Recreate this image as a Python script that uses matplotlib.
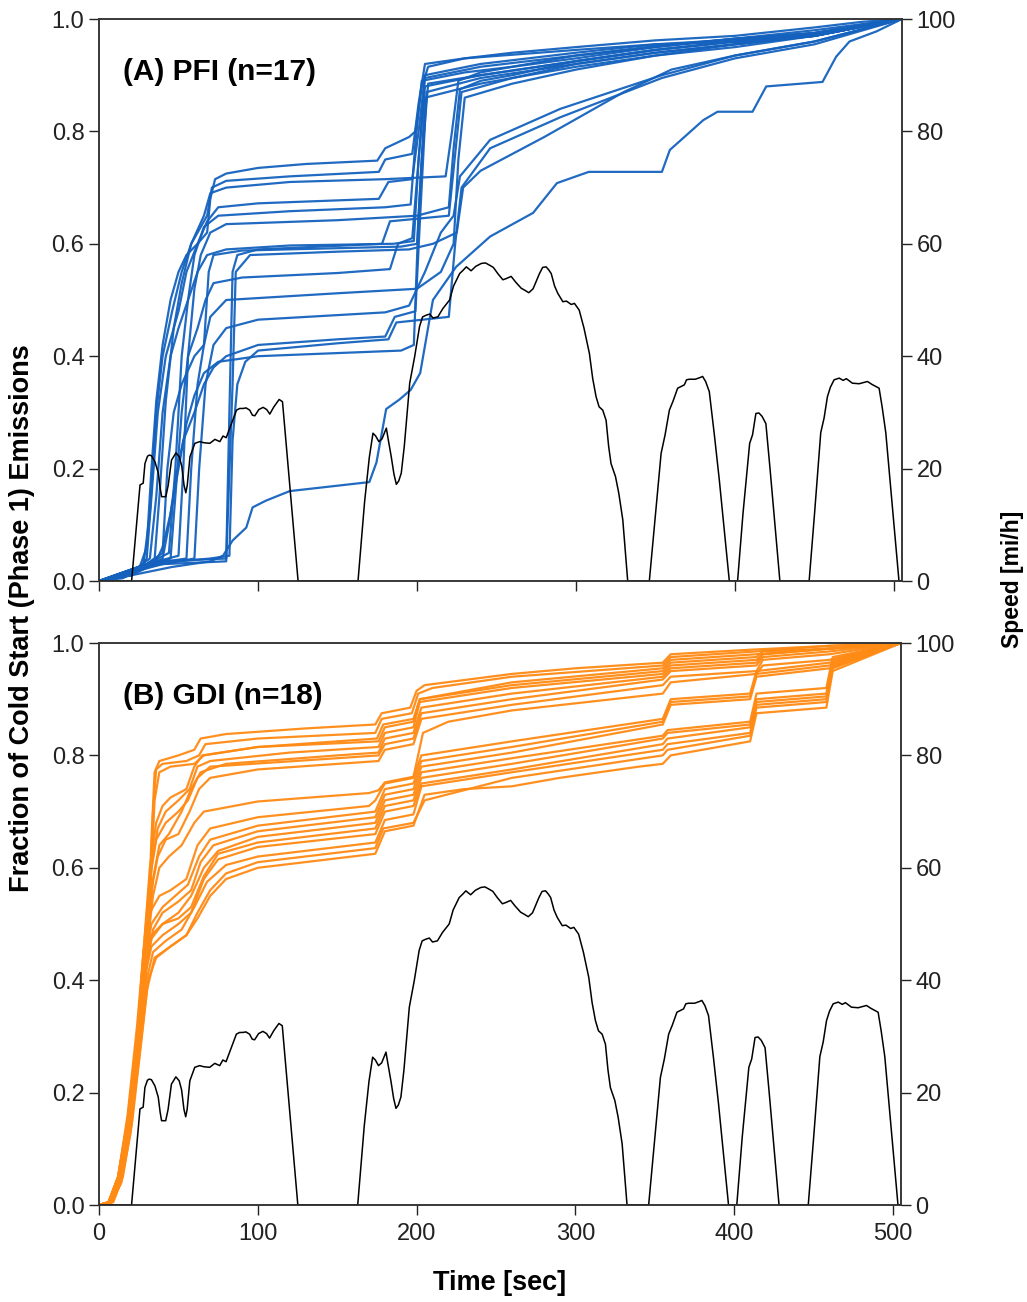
import matplotlib
matplotlib.use("Agg")
import matplotlib.pyplot as plt

plt.rcParams['font.family'] = ['Liberation Sans', 'DejaVu Sans']

# ---------------- data ----------------
# FTP-75 phase 1 speed trace (time [s], speed [mi/h])
speed_t = [0, 20, 20.5, 23, 25.8, 27.8, 28.9, 30.5, 31.6, 33, 35.2, 37.3, 38.5, 39.4, 42, 43.5, 45.6, 48.4,
           50.5, 52, 53.5, 54.6, 55.5, 57.2, 60.3, 63.4, 66, 69.7, 72.9, 76, 78, 80, 83.3, 86.5, 88.5, 90.6,
           92.5, 94.8, 96.5, 98, 100.5, 103.2, 105.5, 107.4, 110, 113.3, 115.4, 125.2, 162.9, 167, 170,
           172.3, 174, 176, 178, 180.7, 182, 183.8, 185.5, 187, 188.5, 190.1, 192, 195.4, 198.5, 201.6,
           203.5, 205.8, 208, 210, 213.1, 216.3, 220.5, 223, 226.8, 229, 231, 234, 237, 240.4, 243, 245.6,
           248, 250.8, 254, 256, 259.2, 262, 265.5, 268, 270.3, 273, 277, 279, 281.2, 283, 284.4, 286.5,
           288.5, 290, 291.7, 294, 297, 299, 302, 305, 308.4, 310.5, 312.6, 314.5, 316.8, 318.9, 320.5,
           322, 324.8, 326.9, 329.4, 332.5, 346.1, 350, 353.5, 356, 358.7, 361, 363.9, 366, 368.1, 369.5,
           371.2, 375, 378, 379.6, 381.5, 383.8, 387, 390.1, 396.4, 401.6, 405, 409.2, 411, 413.1, 415,
           417, 419.4, 422, 428.2, 446.6, 450, 453.9, 456, 458.1, 460, 462.3, 465.5, 468, 470, 473.8, 478,
           483.3, 486, 490.6, 492.5, 494.8, 499, 503.1, 505]
speed_v = [0, 0, 0, 8, 17.1, 17.4, 20.9, 22.2, 22.4, 22.3, 21.2, 19.2, 16.5, 15, 15, 17, 21.5, 22.8,
           22.1, 20.5, 17, 15.7, 17, 22.1, 24.5, 24.8, 24.6, 24.5, 25.2, 24.8, 25.8, 25.5, 28, 30.4, 30.7, 30.7,
           30.8, 30.4, 29.5, 29.4, 30.5, 30.9, 30.5, 29.7, 31, 32.3, 31.9, 0, 0, 14, 22,
           26.3, 25.8, 24.8, 25.3, 27.2, 25, 22.1, 19, 17.2, 17.8, 19.2, 24, 35.2, 39.9, 45.3,
           47, 47.3, 47.5, 46.8, 47, 48.5, 50, 52.5, 54.7, 55.3, 55.9, 55.2, 56, 56.5, 56.6, 56.2,
           55.8, 54.7, 53.6, 53.8, 54.2, 53.2, 52.1, 51.7, 51.3, 52, 54.7, 55.8, 55.9, 55.3, 54.7, 52.5,
           51.2, 50.5, 49.7, 49.8, 49.2, 49.4, 48.2, 45, 40.5, 36, 32.8, 31, 30.4, 28.6, 24,
           20.9, 18.6, 15.6, 10.9, 0, 0, 12, 22.7, 26, 30.4, 32, 34.3, 34.6, 34.9, 35.8,
           35.9, 35.9, 36.2, 36.4, 35.5, 33.7, 26, 18, 0, 0, 12, 24.5, 26, 29.8, 29.9,
           29.3, 28, 20, 0, 0, 12, 26.4, 29, 32.8, 34.5, 35.8, 36.1, 35.7, 36, 35.2, 35.1,
           35.5, 35, 34.3, 31, 26.4, 13, 0, 0]

# PFI vehicles: cumulative fraction curves, (time [s], fraction) pairs
pfi_curves = [
    [(0, 0), (15, 0.005), (25, 0.02), (30, 0.06), (33, 0.2), (36, 0.32), (40, 0.42), (45, 0.5), (50, 0.55),
     (55, 0.58), (62, 0.6), (68, 0.62), (70, 0.68), (73, 0.715), (80, 0.725), (100, 0.735), (130, 0.742),
     (175, 0.748), (180, 0.77), (195, 0.79), (199, 0.8), (203, 0.88), (207, 0.915), (230, 0.93), (260, 0.94),
     (300, 0.95), (350, 0.962), (400, 0.97), (450, 0.985), (480, 0.995), (505, 1.0)],
    [(0, 0), (20, 0.01), (28, 0.03), (32, 0.12), (36, 0.3), (40, 0.4), (46, 0.48), (52, 0.55), (58, 0.6),
     (64, 0.63), (68, 0.65), (71, 0.7), (80, 0.712), (120, 0.72), (176, 0.728), (180, 0.75), (197, 0.76),
     (201, 0.85), (205, 0.92), (230, 0.93), (300, 0.945), (350, 0.955), (410, 0.96), (455, 0.975),
     (480, 0.99), (505, 1.0)],
    [(0, 0), (25, 0.02), (35, 0.04), (38, 0.15), (42, 0.32), (47, 0.45), (52, 0.53), (58, 0.6), (66, 0.65),
     (70, 0.69), (80, 0.7), (120, 0.71), (180, 0.715), (218, 0.72), (222, 0.8), (226, 0.89), (240, 0.905),
     (260, 0.915), (300, 0.93), (350, 0.95), (400, 0.965), (450, 0.975), (505, 1.0)],
    [(0, 0), (25, 0.02), (30, 0.04), (33, 0.15), (37, 0.3), (42, 0.4), (50, 0.48), (55, 0.55), (62, 0.6),
     (68, 0.64), (75, 0.665), (100, 0.672), (176, 0.68), (182, 0.71), (197, 0.715), (201, 0.8), (205, 0.9),
     (240, 0.92), (300, 0.94), (350, 0.955), (410, 0.965), (450, 0.975), (505, 1.0)],
    [(0, 0), (30, 0.03), (44, 0.05), (48, 0.2), (52, 0.4), (56, 0.5), (60, 0.58), (66, 0.63), (75, 0.65),
     (120, 0.658), (180, 0.665), (196, 0.67), (199, 0.78), (203, 0.89), (230, 0.905), (260, 0.915),
     (300, 0.935), (350, 0.95), (400, 0.965), (450, 0.975), (505, 1.0)],
    [(0, 0), (30, 0.03), (50, 0.045), (53, 0.2), (56, 0.4), (60, 0.52), (64, 0.58), (70, 0.62), (80, 0.635),
     (150, 0.642), (200, 0.65), (220, 0.665), (223, 0.77), (227, 0.875), (240, 0.89), (260, 0.9),
     (300, 0.925), (350, 0.945), (400, 0.96), (450, 0.97), (505, 1.0)],
    [(0, 0), (20, 0.015), (32, 0.04), (36, 0.15), (40, 0.3), (45, 0.4), (50, 0.45), (56, 0.5), (62, 0.55),
     (68, 0.58), (80, 0.59), (120, 0.597), (185, 0.6), (198, 0.605), (201, 0.75), (205, 0.895), (240, 0.915),
     (300, 0.935), (350, 0.952), (400, 0.965), (450, 0.98), (505, 1.0)],
    [(0, 0), (40, 0.035), (80, 0.04), (82, 0.3), (84, 0.55), (87, 0.58), (100, 0.59), (178, 0.6), (183, 0.64),
     (220, 0.65), (224, 0.76), (228, 0.87), (260, 0.895), (300, 0.92), (350, 0.94), (400, 0.955),
     (450, 0.97), (505, 1.0)],
    [(0, 0), (30, 0.03), (40, 0.05), (43, 0.2), (47, 0.3), (52, 0.35), (60, 0.4), (66, 0.42), (69, 0.55),
     (72, 0.58), (90, 0.588), (190, 0.595), (200, 0.6), (203, 0.75), (207, 0.885), (240, 0.9), (300, 0.925),
     (350, 0.945), (400, 0.96), (450, 0.97), (505, 1.0)],
    [(0, 0), (40, 0.03), (80, 0.035), (84, 0.35), (86, 0.55), (95, 0.58), (150, 0.586), (195, 0.59),
     (210, 0.6), (225, 0.62), (229, 0.7), (240, 0.73), (280, 0.79), (330, 0.87), (360, 0.91), (400, 0.935),
     (450, 0.96), (505, 1.0)],
    [(0, 0), (30, 0.025), (45, 0.04), (48, 0.15), (52, 0.3), (56, 0.4), (62, 0.45), (67, 0.5), (72, 0.53),
     (90, 0.54), (150, 0.548), (183, 0.555), (188, 0.6), (197, 0.61), (201, 0.75), (205, 0.88), (240, 0.9),
     (300, 0.925), (350, 0.945), (400, 0.96), (450, 0.975), (505, 1.0)],
    [(0, 0), (30, 0.03), (55, 0.04), (58, 0.2), (62, 0.35), (66, 0.42), (70, 0.47), (80, 0.5), (150, 0.512),
     (200, 0.52), (215, 0.55), (223, 0.6), (226, 0.75), (230, 0.86), (260, 0.885), (300, 0.91), (350, 0.935),
     (400, 0.955), (450, 0.97), (505, 1.0)],
    [(0, 0), (30, 0.025), (60, 0.04), (63, 0.2), (67, 0.35), (72, 0.42), (80, 0.45), (100, 0.465),
     (180, 0.478), (195, 0.49), (205, 0.55), (215, 0.62), (223, 0.65), (227, 0.72), (246, 0.785),
     (290, 0.84), (354, 0.9), (400, 0.935), (450, 0.96), (505, 1.0)],
    [(0, 0), (25, 0.02), (40, 0.04), (44, 0.1), (48, 0.18), (53, 0.25), (60, 0.3), (66, 0.35), (72, 0.38),
     (80, 0.4), (100, 0.42), (150, 0.43), (180, 0.435), (186, 0.47), (199, 0.48), (202, 0.65), (206, 0.87),
     (240, 0.895), (300, 0.92), (350, 0.94), (400, 0.955), (450, 0.97), (505, 1.0)],
    [(0, 0), (30, 0.03), (70, 0.04), (82, 0.045), (84, 0.25), (87, 0.35), (92, 0.39), (100, 0.41),
     (150, 0.423), (182, 0.43), (187, 0.46), (220, 0.47), (224, 0.6), (228, 0.7), (246, 0.77), (290, 0.825),
     (354, 0.895), (400, 0.93), (450, 0.955), (505, 1.0)],
    [(0, 0), (20, 0.01), (35, 0.03), (40, 0.06), (45, 0.12), (50, 0.2), (55, 0.28), (60, 0.33), (66, 0.37),
     (75, 0.39), (100, 0.4), (190, 0.41), (198, 0.42), (201, 0.65), (205, 0.86), (240, 0.885), (300, 0.915),
     (350, 0.935), (400, 0.95), (450, 0.97), (505, 1.0)],
    [(0, 0), (20, 0.01), (46, 0.025), (70, 0.035), (78, 0.045), (84, 0.072), (92.6, 0.095), (96.6, 0.131),
     (105, 0.143), (120, 0.16), (170, 0.176), (174.5, 0.211), (180.6, 0.306), (189, 0.323), (196, 0.34),
     (202, 0.37), (210, 0.5), (224.6, 0.559), (246, 0.613), (273, 0.655), (288, 0.708), (308, 0.728),
     (354, 0.728), (359, 0.767), (380, 0.82), (389, 0.835), (411, 0.835), (419.6, 0.88), (455, 0.888),
     (463.6, 0.933), (472, 0.96), (489, 0.978), (505, 1.0)],
]

# GDI vehicles: cumulative fraction curves, (time [s], fraction) pairs
gdi_curves = [
    [(0, 0), (6, 0.005), (12, 0.04), (18, 0.12), (24, 0.26), (28, 0.38), (31, 0.5), (33, 0.65), (35, 0.77),
     (38, 0.79), (50, 0.8), (60, 0.81), (64, 0.83), (80, 0.838), (130, 0.848), (174, 0.855), (178, 0.875),
     (196, 0.885), (200, 0.915), (205, 0.925), (260, 0.945), (300, 0.955), (355, 0.965), (360, 0.98),
     (410, 0.988), (460, 0.995), (505, 1.0)],
    [(0, 0), (7, 0.005), (13, 0.04), (19, 0.12), (25, 0.27), (29, 0.4), (32, 0.55), (34, 0.7), (36, 0.775),
     (40, 0.785), (55, 0.79), (63, 0.8), (67, 0.82), (100, 0.83), (174, 0.84), (178, 0.865), (197, 0.875),
     (201, 0.91), (210, 0.92), (260, 0.94), (355, 0.96), (360, 0.975), (414, 0.985), (460, 0.995), (505, 1.0)],
    [(0, 0), (8, 0.005), (14, 0.04), (20, 0.13), (26, 0.3), (30, 0.45), (33, 0.6), (35, 0.72), (38, 0.77),
     (45, 0.78), (60, 0.785), (66, 0.8), (100, 0.815), (175, 0.83), (179, 0.855), (198, 0.865), (202, 0.9),
     (260, 0.93), (355, 0.955), (360, 0.97), (414, 0.98), (460, 0.99), (505, 1.0)],
    [(0, 0), (6, 0.005), (12, 0.05), (18, 0.15), (24, 0.3), (28, 0.45), (32, 0.6), (36, 0.68), (40, 0.71),
     (45, 0.725), (55, 0.74), (60, 0.78), (65, 0.8), (100, 0.815), (176, 0.825), (180, 0.85), (198, 0.86),
     (202, 0.9), (260, 0.925), (355, 0.95), (360, 0.965), (414, 0.975), (418, 0.985), (460, 0.99), (505, 1.0)],
    [(0, 0), (7, 0.005), (13, 0.05), (19, 0.15), (25, 0.3), (29, 0.45), (33, 0.6), (37, 0.67), (42, 0.7),
     (50, 0.72), (57, 0.74), (62, 0.78), (70, 0.79), (120, 0.805), (176, 0.815), (180, 0.84), (198, 0.85),
     (202, 0.895), (260, 0.92), (355, 0.945), (360, 0.96), (414, 0.97), (418, 0.98), (460, 0.99), (505, 1.0)],
    [(0, 0), (8, 0.005), (14, 0.05), (20, 0.15), (26, 0.3), (30, 0.45), (34, 0.58), (38, 0.64), (44, 0.66),
     (52, 0.7), (58, 0.74), (64, 0.77), (80, 0.785), (150, 0.8), (176, 0.805), (180, 0.83), (198, 0.84),
     (203, 0.885), (260, 0.91), (355, 0.94), (360, 0.955), (414, 0.965), (418, 0.98), (460, 0.99), (505, 1.0)],
    [(0, 0), (6, 0.005), (12, 0.05), (18, 0.15), (24, 0.3), (28, 0.45), (32, 0.58), (36, 0.65), (42, 0.68),
     (50, 0.7), (56, 0.72), (62, 0.76), (70, 0.78), (150, 0.795), (176, 0.8), (180, 0.82), (198, 0.83),
     (203, 0.875), (260, 0.9), (355, 0.935), (360, 0.95), (414, 0.96), (418, 0.975), (460, 0.985), (505, 1.0)],
    [(0, 0), (7, 0.005), (13, 0.05), (19, 0.15), (25, 0.3), (29, 0.45), (33, 0.56), (37, 0.62), (42, 0.65),
     (50, 0.66), (57, 0.7), (63, 0.74), (70, 0.76), (100, 0.775), (176, 0.79), (180, 0.81), (198, 0.82),
     (203, 0.865), (260, 0.89), (355, 0.925), (360, 0.94), (414, 0.95), (418, 0.97), (460, 0.98), (505, 1.0)],
    [(0, 0), (8, 0.005), (14, 0.05), (20, 0.15), (26, 0.3), (30, 0.45), (34, 0.55), (38, 0.6), (44, 0.62),
     (52, 0.64), (60, 0.68), (66, 0.7), (100, 0.718), (170, 0.733), (176, 0.738), (180, 0.752), (198, 0.762),
     (204, 0.84), (220, 0.86), (260, 0.88), (355, 0.91), (360, 0.93), (414, 0.945), (418, 0.96), (460, 0.97),
     (505, 1.0)],
    [(0, 0), (6, 0.005), (12, 0.05), (18, 0.16), (24, 0.32), (28, 0.45), (32, 0.52), (38, 0.55), (45, 0.56),
     (55, 0.58), (62, 0.64), (70, 0.67), (100, 0.69), (170, 0.71), (174, 0.72), (180, 0.75), (198, 0.76),
     (203, 0.8), (260, 0.825), (355, 0.865), (360, 0.9), (410, 0.91), (414, 0.95), (460, 0.965), (505, 1.0)],
    [(0, 0), (7, 0.005), (13, 0.05), (19, 0.15), (25, 0.3), (29, 0.43), (33, 0.5), (40, 0.53), (48, 0.55),
     (56, 0.57), (63, 0.62), (70, 0.65), (100, 0.675), (174, 0.7), (180, 0.74), (198, 0.75), (203, 0.79),
     (260, 0.815), (355, 0.86), (360, 0.895), (410, 0.905), (414, 0.945), (460, 0.96), (505, 1.0)],
    [(0, 0), (8, 0.005), (14, 0.05), (20, 0.15), (26, 0.3), (30, 0.42), (34, 0.49), (40, 0.52), (50, 0.54),
     (58, 0.56), (64, 0.61), (72, 0.64), (100, 0.665), (174, 0.69), (180, 0.73), (198, 0.74), (203, 0.78),
     (260, 0.805), (355, 0.855), (360, 0.89), (410, 0.9), (414, 0.94), (460, 0.955), (505, 1.0)],
    [(0, 0), (7, 0.005), (13, 0.05), (19, 0.15), (25, 0.3), (29, 0.42), (33, 0.48), (40, 0.5), (50, 0.52),
     (58, 0.55), (66, 0.6), (75, 0.63), (100, 0.655), (174, 0.68), (180, 0.72), (198, 0.73), (203, 0.77),
     (260, 0.795), (355, 0.835), (358, 0.845), (410, 0.86), (414, 0.91), (458, 0.92), (462, 0.975), (505, 1.0)],
    [(0, 0), (6, 0.005), (12, 0.05), (18, 0.15), (24, 0.3), (28, 0.42), (32, 0.47), (40, 0.5), (50, 0.51),
     (58, 0.53), (66, 0.585), (75, 0.625), (100, 0.645), (174, 0.67), (180, 0.71), (198, 0.72), (203, 0.76),
     (260, 0.785), (355, 0.83), (358, 0.84), (410, 0.855), (414, 0.9), (458, 0.91), (462, 0.97), (505, 1.0)],
    [(0, 0), (7, 0.005), (13, 0.05), (19, 0.15), (25, 0.3), (29, 0.41), (33, 0.46), (40, 0.48), (50, 0.5),
     (58, 0.52), (66, 0.58), (75, 0.615), (100, 0.637), (174, 0.66), (180, 0.7), (198, 0.71), (203, 0.75),
     (260, 0.775), (355, 0.82), (358, 0.83), (410, 0.85), (414, 0.895), (458, 0.905), (462, 0.965), (505, 1.0)],
    [(0, 0), (8, 0.005), (14, 0.05), (20, 0.15), (26, 0.3), (30, 0.4), (34, 0.45), (42, 0.47), (52, 0.49),
     (60, 0.53), (68, 0.575), (80, 0.605), (100, 0.62), (174, 0.645), (180, 0.685), (198, 0.695), (203, 0.745),
     (260, 0.77), (355, 0.81), (358, 0.82), (410, 0.84), (414, 0.89), (458, 0.9), (462, 0.96), (505, 1.0)],
    [(0, 0), (9, 0.005), (15, 0.05), (21, 0.15), (27, 0.3), (31, 0.4), (36, 0.44), (45, 0.46), (55, 0.48),
     (62, 0.52), (70, 0.56), (80, 0.59), (100, 0.61), (174, 0.635), (179, 0.67), (198, 0.68), (205, 0.72),
     (260, 0.76), (355, 0.8), (358, 0.81), (410, 0.835), (414, 0.885), (458, 0.895), (462, 0.955), (505, 1.0)],
    [(0, 0), (8, 0.005), (14, 0.04), (20, 0.14), (26, 0.28), (30, 0.38), (35, 0.44), (45, 0.46), (55, 0.48),
     (62, 0.51), (70, 0.55), (80, 0.58), (100, 0.6), (174, 0.625), (180, 0.665), (198, 0.675), (205, 0.73),
     (230, 0.74), (260, 0.745), (290, 0.76), (340, 0.78), (355, 0.785), (360, 0.8), (410, 0.825),
     (414, 0.875), (458, 0.885), (462, 0.95), (505, 1.0)],
]

panel_labels = ["(A) PFI (n=17)", "(B) GDI (n=18)"]
frac_ticks = [0.0, 0.2, 0.4, 0.6, 0.8, 1.0]
speed_ticks = [0, 20, 40, 60, 80, 100]
time_ticks = [0, 100, 200, 300, 400, 500]

# ---------------- drawing ----------------
W, H = 1027, 1302
fig = plt.figure(figsize=(W / 100, H / 100), dpi=100)

def px_axes(l, r, t, b):
    return fig.add_axes([l / W, 1 - b / H, (r - l) / W, (b - t) / H])

axA = px_axes(99, 902, 19, 581)
axB = px_axes(99, 901, 643, 1205)

TICK_FS = 17
for ax, curves, color, label, show_x in [
        (axA, pfi_curves, '#1462BE', panel_labels[0], False),
        (axB, gdi_curves, '#FF8A14', panel_labels[1], True)]:
    for c in curves:
        ts = [p[0] for p in c]
        fs = [p[1] for p in c]
        ax.plot(ts, fs, color=color, lw=1.6, alpha=0.95, solid_joinstyle='round')
    ax.set_xlim(0, 505)
    ax.set_ylim(0, 1.0)
    ax.set_yticks(frac_ticks)
    ax.set_yticklabels([f"{v:.1f}" for v in frac_ticks])
    ax.set_xticks(time_ticks)
    if not show_x:
        ax.set_xticklabels([])
    ax.tick_params(direction='out', length=7, width=1.0, labelsize=TICK_FS, colors='#222222')
    ax.tick_params(axis='x', pad=6)
    for s in ax.spines.values():
        s.set_linewidth(1.1)
        s.set_color('#333333')
    ax.text(0.03, 0.905, label, transform=ax.transAxes, fontsize=21.5, fontweight='bold',
            va='center', ha='left')

    tw = ax.twinx()
    tw.plot(speed_t, speed_v, color='black', lw=1.1)
    tw.set_ylim(0, 100)
    tw.set_yticks(speed_ticks)
    tw.tick_params(direction='out', length=7, width=1.0, labelsize=TICK_FS, colors='#222222')
    for s in tw.spines.values():
        s.set_linewidth(1.1)
        s.set_color('#333333')
    tw.set_xlim(0, 505)

fig.text(22 / W, 1 - 618 / H, "Fraction of Cold Start (Phase 1) Emissions", rotation=90,
         fontsize=19.5, fontweight='bold', ha='center', va='center')
fig.text(1013 / W, 1 - 579 / H, "Speed [mi/h]", rotation=90,
         fontsize=16.5, fontweight='bold', ha='center', va='center')
fig.text(500 / W, 1 - 1283 / H, "Time [sec]", fontsize=19.5, fontweight='bold',
         ha='center', va='center')

fig.savefig("out.png", dpi=100)
